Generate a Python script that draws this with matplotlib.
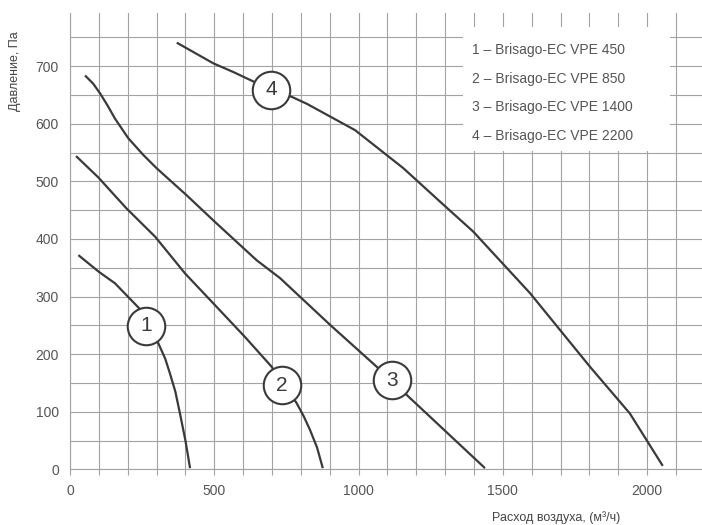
import matplotlib
matplotlib.use("Agg")
import matplotlib.pyplot as plt
from matplotlib.patches import Rectangle
import numpy as np

plt.rcParams['font.family'] = ['Liberation Sans', 'DejaVu Sans']

# ---- data ----
c1_x = [29, 100, 156, 239, 263, 306, 330, 346, 365, 381, 400, 416]
c1_y = [372, 343, 323, 280, 249, 219, 192, 167, 135, 97, 50, 2]

c2_x = [21, 98, 196, 295, 399, 497, 606, 699, 733, 783, 810, 832, 856, 876]
c2_y = [544, 507, 453, 404, 340, 288, 230, 178, 146, 117, 92, 68, 38, 2]

c3_x = [52, 80, 104, 130, 156, 202, 254, 300, 404, 508, 647, 728, 901, 1063, 1117, 1167, 1438]
c3_y = [684, 670, 653, 632, 609, 575, 546, 523, 476, 427, 363, 332, 251, 178, 155, 129, 2]

c4_x = [370, 497, 566, 697, 768, 820, 988, 1155, 1282, 1397, 1594, 1802, 1940, 2054]
c4_y = [741, 705, 690, 659, 647, 635, 589, 523, 465, 413, 306, 178, 97, 6]

label_names = ["1", "2", "3", "4"]
label_x = [263, 733, 1117, 697]
label_y = [249, 146, 155, 659]

legend_lines = ["1 – Brisago-EC VPE 450",
                "2 – Brisago-EC VPE 850",
                "3 – Brisago-EC VPE 1400",
                "4 – Brisago-EC VPE 2200"]

x_ticks = [0, 500, 1000, 1500, 2000]
y_ticks = [0, 100, 200, 300, 400, 500, 600, 700]

# ---- figure ----
W, H = 702, 525
fig = plt.figure(figsize=(W / 100, H / 100), dpi=100)

def fx(px):
    return px / W

def fy(py):
    return (H - py) / H

left, right, top, bottom = 70, 702, 13.3, 469.3
ax = fig.add_axes([fx(left), fy(bottom), fx(right - left), (bottom - top) / H])
ax.set_xlim(0, 2190)
ax.set_ylim(0, 792)

grid_col = '#a3a3a3'
ax.set_xticks(np.arange(0, 2191, 100), minor=True)
ax.set_yticks(np.arange(0, 792, 50), minor=True)
ax.set_xticks(x_ticks)
ax.set_yticks(y_ticks)
ax.grid(True, which='both', color=grid_col, lw=0.8)
ax.set_axisbelow(True)

for s in ['top', 'right']:
    ax.spines[s].set_visible(False)
for s in ['left', 'bottom']:
    ax.spines[s].set_color(grid_col)
    ax.spines[s].set_linewidth(0.8)

ax.tick_params(axis='x', which='both', direction='out', length=4.5, color=grid_col,
               width=0.8, labelsize=10, labelcolor='#555555', pad=6)
ax.tick_params(axis='y', which='both', length=0, labelsize=10, labelcolor='#555555', pad=8)

line_col = '#3a3a3a'
for xs, ys in [(c1_x, c1_y), (c2_x, c2_y), (c3_x, c3_y), (c4_x, c4_y)]:
    ax.plot(xs, ys, color=line_col, lw=1.6, solid_capstyle='butt', zorder=4,
            clip_on=False)

for name, lx, ly in zip(label_names, label_x, label_y):
    ax.plot([lx], [ly], marker='o', markersize=27, markerfacecolor='white',
            markeredgecolor=line_col, markeredgewidth=1.5, zorder=5, clip_on=False)
    ax.text(lx, ly, name, ha='center', va='center', fontsize=15,
            color='#3a3a3a', zorder=6)

# legend box
fig.patches.append(Rectangle((fx(463), fy(151)), fx(670 - 463), (151 - 27) / H,
                             transform=fig.transFigure, facecolor='white',
                             edgecolor='none', zorder=3))
for i, t in enumerate(legend_lines):
    fig.text(fx(472), fy(50 + i * 28.6), t, ha='left', va='center',
             fontsize=10, color='#555555', zorder=4)

fig.text(fx(15), fy(71), "Давление, Па", rotation=90, ha='center', va='center',
         fontsize=9, color='#444444')
fig.text(fx(556), fy(518), "Расход воздуха, (м³/ч)", ha='center', va='center',
         fontsize=9, color='#444444')

fig.savefig("out.png", dpi=100)
